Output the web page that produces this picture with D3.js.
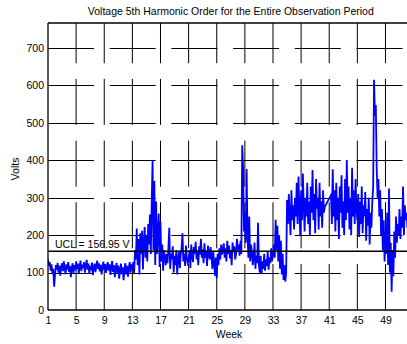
<!DOCTYPE html>
<html><head><meta charset="utf-8">
<script src="https://cdn.jsdelivr.net/npm/d3@7"></script>
<style>body{margin:0;background:#fff}svg{display:block}text{font-family:"Liberation Sans",Arial,sans-serif;fill:#000}</style>
</head><body><svg id="c" width="407" height="344"></svg>
<script>
const titleText = "Voltage 5th Harmonic Order for the Entire Observation Period";
const xLabel = "Week";
const yLabel = "Volts";
const xTicks = [1,5,9,13,17,21,25,29,33,37,41,45,49];
const yTicks = [0,100,200,300,400,500,600,700];
const uclValue = 156.95;
const uclLabel = "UCL = 156.95 V";
const sampleStep = 0.125; // weeks between readings
const seg1Start = 1;
const seg1 = [
 135,118,128,105,122,98,110,62,
 95,120,108,126,100,118,92,115,
 125,104,130,112,96,122,108,128,
 102,118,88,112,125,99,120,106,
 130,110,124,98,116,132,104,121,
 112,128,100,119,134,108,124,97,
 118,106,127,93,113,124,101,119,
 132,109,125,103,121,95,115,129,
 107,123,99,117,128,105,122,94,
 116,131,102,120,88,112,126,98,
 119,84,108,124,96,114,80,110,
 125,95,118,89,113,128,100,122,
 110,128,98,160,135,218,120,190,
 95,205,150,212,108,180,222,140,
 200,130,230,175,255,150,285,400,
 160,345,120,290,150,200,258,115,
 235,130,175,105,160,140,120,150,
 125,165,220,110,150,135,170,100,
 145,120,160,95,138,155,112,148,
 165,205,130,150,118,172,140,125,
 130,160,112,175,145,128,168,150,
 182,135,158,120,170,148,190,140,
 162,125,178,140,155,118,172,150,
 135,168,145,110,158,128,92,140,
 85,150,120,165,135,175,148,160,
 178,140,165,130,185,150,172,138,
 160,120,180,155,170,135,150,190,
 160,175,145,185,150,440,380,210,
 260,180,377,200,140,250,130,175,
 155,120,140,180,110,145,125,233,
 120,100,145,96,130,110,150,105,
 135,118,155,108,140,125,165,130,
 150,175,140,241,160,225,130,200,
 110,185,95,150,80,120,76,100,
 294,230,310,250,200,320,240,280,
 215,300,250,340,230,357,270,200,
 320,240,365,280,210,300,250,340,
 230,290,200,330,260,374,240,310,
 205,350,270,300,215,340,250,290,
 220,320,260,276
];
const seg2Start = 41.25;
const seg2 = [
 307,230,376,250,320,210,
 340,240,300,190,330,260,360,220,
 290,200,350,240,401,260,330,215,
 300,200,380,250,320,230,350,270,
 240,310,195,290,230,330,205,280,
 250,315,185,270,225,300,175,260,
 220,290,330,615,520,548,380,300,
 350,250,320,200,270,160,240,130,
 210,150,260,120,325,100,180,49,
 160,90,210,140,250,180,230,200,
 270,190,250,220,330,200,280,240,
 260,220
];

const svg = d3.select("#c");
const L = 48, R = 413.6, T = 23, B = 310;
const x = d3.scaleLinear().domain([1,53]).range([L,R]);
const y = d3.scaleLinear().domain([0,767]).range([B,T]);

svg.append("defs").append("clipPath").attr("id","clip")
  .append("rect").attr("x",L).attr("y",T).attr("width",R-L).attr("height",B-T);

// grid
const grid = svg.append("g").attr("stroke","#000").attr("stroke-width",1).attr("stroke-dasharray","46,15.7").attr("fill","none");
yTicks.filter(v=>v>0).forEach(v=>{
  grid.append("line").attr("x1",L).attr("x2",R).attr("y1",Math.round(y(v))+0.5).attr("y2",Math.round(y(v))+0.5);
});
xTicks.filter(v=>v>1).forEach(v=>{
  grid.append("line").attr("x1",x(v)).attr("x2",x(v)).attr("y1",B).attr("y2",T);
});

// data
const pts = seg1.map((v,i)=>[seg1Start+i*sampleStep, v])
  .concat(seg2.map((v,i)=>[seg2Start+i*sampleStep, v]));
svg.append("path").datum(pts).attr("clip-path","url(#clip)")
  .attr("fill","none").attr("stroke","#0000ff").attr("stroke-width",1.8).attr("stroke-linejoin","miter")
  .attr("d", d3.line().x(d=>x(d[0])).y(d=>y(d[1])));

// UCL line
svg.append("line").attr("x1",L).attr("x2",R).attr("y1",y(uclValue)).attr("y2",y(uclValue))
  .attr("stroke","#000").attr("stroke-width",1.7);
svg.append("text").attr("x",55).attr("y",y(200)+13).attr("font-size","10.5px").text(uclLabel);

// box
const box = svg.append("g").attr("stroke","#000").attr("stroke-width",1.3).attr("fill","none");
box.append("line").attr("x1",L).attr("x2",R).attr("y1",T).attr("y2",T);
box.append("line").attr("x1",L).attr("x2",R).attr("y1",B).attr("y2",B);
box.append("line").attr("x1",L).attr("x2",L).attr("y1",T).attr("y2",B);

// axes labels
const xa = svg.append("g").attr("transform",`translate(0,${B})`)
  .call(d3.axisBottom(x).tickValues(xTicks).tickSize(0).tickPadding(7).tickFormat(d3.format("d")));
xa.select(".domain").remove();
xa.selectAll("text").attr("font-size","10.5px").attr("font-family","'Liberation Sans',Arial,sans-serif").attr("fill","#000");
const ya = svg.append("g").attr("transform",`translate(${L},0)`)
  .call(d3.axisLeft(y).tickValues(yTicks).tickSize(0).tickPadding(4).tickFormat(d3.format("d")));
ya.select(".domain").remove();
ya.selectAll("text").attr("font-size","10.5px").attr("font-family","'Liberation Sans',Arial,sans-serif").attr("fill","#000");

svg.append("text").attr("x",(L+R)/2).attr("y",15).attr("text-anchor","middle").attr("font-size","10.5px").text(titleText);
svg.append("text").attr("x",229).attr("y",338).attr("text-anchor","middle").attr("font-size","10.5px").text(xLabel);
svg.append("text").attr("transform","translate(19,169) rotate(-90)").attr("text-anchor","middle").attr("font-size","10.5px").text(yLabel);
</script></body></html>
